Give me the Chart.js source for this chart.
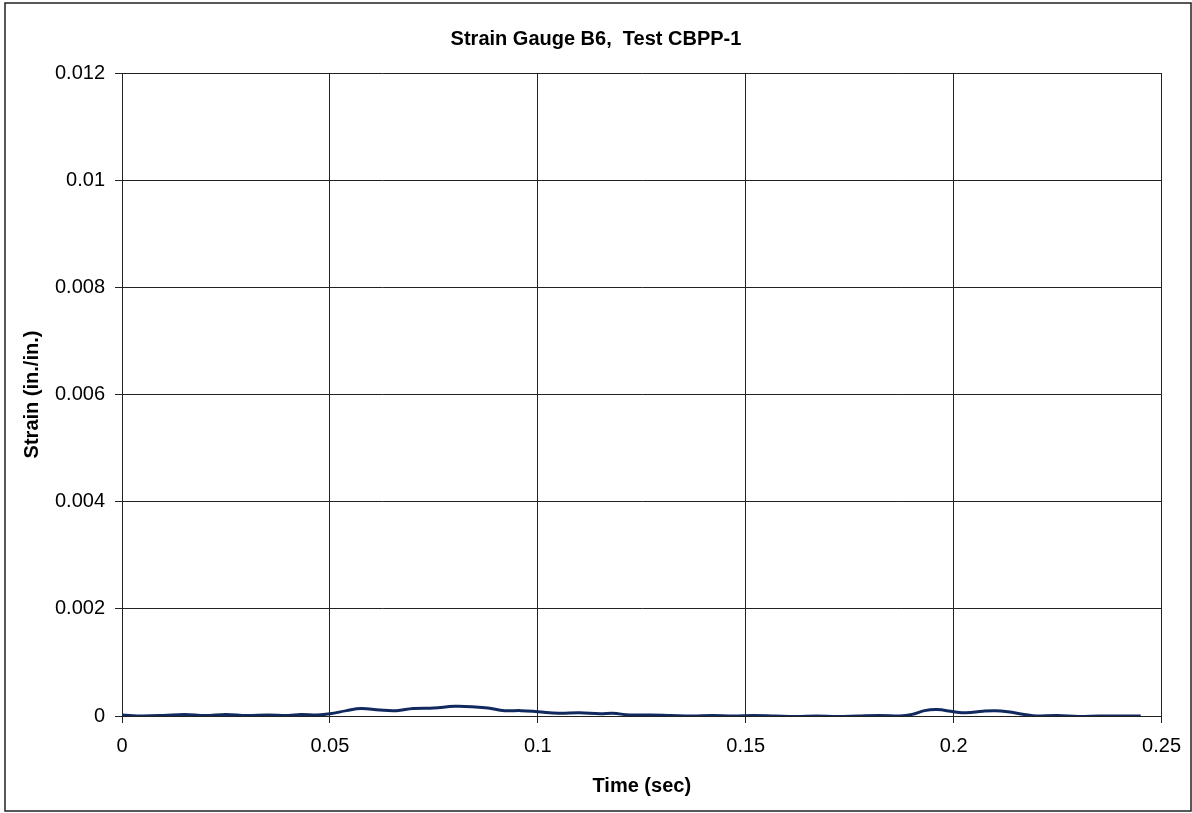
<!DOCTYPE html>
<html>
<head>
<meta charset="utf-8">
<script src="https://cdn.jsdelivr.net/npm/chart.js@4/dist/chart.umd.min.js"></script>
<style>
  html, body { margin: 0; padding: 0; background: #fff; }
  #wrap { position: absolute; left: 0; top: 0; width: 1192px; height: 813px; }
</style>
</head>
<body>
<div id="wrap"><canvas id="myChart"></canvas></div>
<script>
'use strict';

// time in seconds, strain in in./in.
let times = [0, 0.005, 0.01, 0.015, 0.02, 0.025, 0.03, 0.035, 0.04, 0.043, 0.047, 0.05,
    0.054, 0.0575, 0.062, 0.066, 0.07, 0.075, 0.08, 0.085, 0.088, 0.092, 0.096, 0.1,
    0.105, 0.11, 0.115, 0.118, 0.122, 0.127, 0.132, 0.137, 0.142, 0.147, 0.152, 0.157,
    0.162, 0.167, 0.172, 0.177, 0.182, 0.187, 0.19, 0.193, 0.196, 0.2, 0.203, 0.207,
    0.21, 0.213, 0.217, 0.22, 0.225, 0.23, 0.235, 0.24, 0.245];
let strain = [0.00002, 0.0, 0.00001, 0.00003, 0.00001, 0.00003, 0.00001, 0.00002, 0.00001, 0.00003, 0.00002, 0.00004,
    0.0001, 0.00014, 0.00011, 0.0001, 0.00014, 0.00015, 0.00018, 0.00017, 0.00015, 0.0001, 0.0001, 0.00008,
    0.00005, 0.00006, 0.00004, 0.00005, 0.00002, 0.00002, 0.00001, 0.0, 0.00001, 0.0, 0.00001, 0.0,
    -0.00001, 0.0, -0.00001, 0.0, 0.00001, 0.0, 0.00003, 0.0001, 0.00012, 0.00008, 0.00006, 0.00009,
    0.0001, 0.00008, 0.00003, 0.0, 0.00001, -0.00001, 0.0, 0.0, 0.0];

let xTicks = [0, 0.05, 0.1, 0.15, 0.2, 0.25];
let yTicks = [0, 0.002, 0.004, 0.006, 0.008, 0.01, 0.012];

let points = [];
for (let i = 0; i < times.length; i++) {
    points.push({ x: times[i], y: strain[i] });
}

let frame = {
    id: 'frame',
    beforeDraw(chart) {
        let c = chart.ctx;
        c.save();
        c.fillStyle = '#fff';
        c.fillRect(0, 0, chart.width, chart.height);
        c.strokeStyle = '#222';
        c.lineWidth = 1.5;
        c.strokeRect(5, 3, 1186, 808);
        c.restore();
    }
};

function fmt(v) {
    return String(+v.toFixed(4));
}

let font = 'Liberation Sans, Arial, sans-serif';

let ctx = document.getElementById('myChart').getContext('2d');
let myChart = new Chart(ctx, {
    type: 'line',
    data: {
        datasets: [{
            label: 'Strain Gauge B6',
            data: points,
            borderColor: '#10295e',
            borderWidth: 3,
            pointRadius: 0,
            tension: 0.4,
            fill: false
        }]
    },
    options: {
        responsive: true,
        maintainAspectRatio: false,
        animation: false,
        layout: { padding: 0 },
        plugins: {
            legend: { display: false },
            tooltip: { enabled: false },
            title: {
                display: true,
                text: 'Strain Gauge B6,  Test CBPP-1',
                color: '#000',
                font: { family: font, size: 20, weight: 'bold' },
                padding: { top: 27, bottom: 22 }
            }
        },
        scales: {
            x: {
                type: 'linear',
                min: 0,
                max: 0.25,
                afterFit(scale) { scale.height = 97; },
                afterBuildTicks(scale) { scale.ticks = xTicks.map(v => ({ value: v })); },
                ticks: {
                    color: '#000',
                    padding: 11,
                    maxRotation: 0,
                    font: { family: font, size: 20 },
                    callback: fmt
                },
                grid: { color: '#222', lineWidth: 1, tickLength: 7, tickColor: '#222' },
                border: { color: '#222', width: 1 },
                title: {
                    display: true,
                    text: 'Time (sec)',
                    color: '#000',
                    font: { family: font, size: 20, weight: 'bold' },
                    padding: { top: 0, bottom: 15 }
                }
            },
            y: {
                min: 0,
                max: 0.012,
                afterFit(scale) { scale.width = 122; },
                afterBuildTicks(scale) { scale.ticks = yTicks.map(v => ({ value: v })); },
                ticks: {
                    color: '#000',
                    padding: 10,
                    font: { family: font, size: 20 },
                    callback: fmt
                },
                grid: { color: '#222', lineWidth: 1, tickLength: 7, tickColor: '#222' },
                border: { color: '#222', width: 1 },
                title: {
                    display: true,
                    text: 'Strain (in./in.)',
                    color: '#000',
                    font: { family: font, size: 20, weight: 'bold' },
                    padding: { top: 20, bottom: 0 }
                }
            },
            // empty right-hand strip so the title stays centred on the whole page
            yRight: {
                position: 'right',
                min: 0,
                max: 1,
                afterFit(scale) { scale.width = 29; },
                ticks: { display: false },
                grid: { display: false, drawTicks: false },
                border: { display: false }
            }
        }
    },
    plugins: [frame]
});
</script>
</body>
</html>
